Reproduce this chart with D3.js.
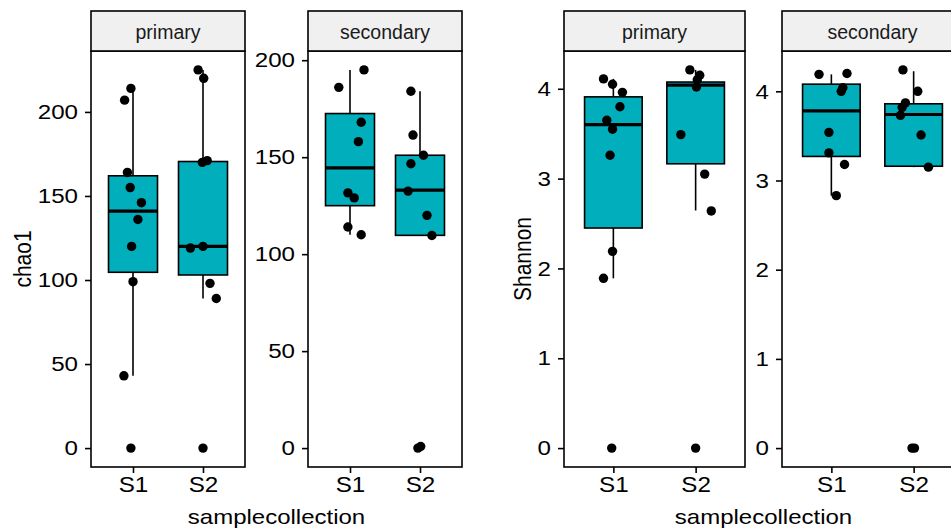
<!DOCTYPE html>
<html>
<head>
<meta charset="utf-8">
<script src="https://cdn.jsdelivr.net/npm/d3@7"></script>
<style>
  body { margin: 0; background: #fff; }
</style>
</head>
<body>
<div id="chart"></div>
<script>
"use strict";

const FONT = "'Liberation Sans', Arial, Helvetica, sans-serif";

let groups = ["S1", "S2"];
let facets = ["primary", "secondary"];

// chao1, primary
let chaoPriS1 = [214, 207, 164, 155, 146, 136, 120, 99, 43, 0];
let chaoPriS1Jit = [-0.03, -0.12, -0.08, -0.04, 0.12, 0.07, -0.02, 0, -0.13, -0.03];
let chaoPriS2 = [225, 220, 170, 171, 119, 120, 98, 89, 0];
let chaoPriS2Jit = [-0.07, 0.01, -0.01, 0.06, -0.18, 0, 0.1, 0.19, 0];
// chao1, secondary
let chaoSecS1 = [186, 195, 168, 158, 131.6, 129, 114, 110];
let chaoSecS1Jit = [-0.16, 0.2, 0.16, 0.12, -0.03, 0.06, -0.03, 0.16];
let chaoSecS2 = [184, 161.4, 151, 146.6, 132.5, 120, 109.6, 0, 0.8];
let chaoSecS2Jit = [-0.13, -0.1, 0.05, -0.13, -0.17, 0.1, 0.17, -0.03, 0.01];

// Shannon, primary
let shanPriS1 = [4.11, 4.05, 3.96, 3.80, 3.65, 3.55, 3.26, 2.19, 1.89, 0];
let shanPriS1Jit = [-0.12, -0.01, 0.11, 0.08, -0.08, -0.01, -0.04, -0.01, -0.12, -0.02];
let shanPriS2 = [4.21, 4.15, 4.10, 4.02, 3.49, 3.05, 2.64, 0];
let shanPriS2Jit = [-0.07, 0.05, 0.02, 0.01, -0.18, 0.11, 0.19, 0];
// Shannon, secondary
let shanSecS1 = [4.19, 4.20, 4.04, 4.00, 3.54, 3.31, 3.18, 2.83];
let shanSecS1Jit = [-0.15, 0.19, 0.14, 0.12, -0.03, -0.03, 0.16, 0.06];
let shanSecS2 = [4.24, 4.00, 3.87, 3.82, 3.73, 3.51, 3.15, 0, 0];
let shanSecS2Jit = [-0.13, 0.05, -0.1, -0.14, -0.16, 0.09, 0.18, -0.02, 0.01];

// box stats per group: [lower whisker, q1, median, q3, upper whisker]
let chaoPriBox = [[43, 104.6, 141, 162, 214], [89, 103, 120, 170.5, 225]];
let chaoSecBox = [[110, 125, 144.5, 172.5, 195], [109.6, 109.7, 133, 151, 184]];
let shanPriBox = [[1.89, 2.45, 3.60, 3.91, 4.11], [2.645, 3.165, 4.04, 4.075, 4.21]];
let shanSecBox = [[2.83, 3.27, 3.78, 4.08, 4.19], [3.15, 3.16, 3.74, 3.86, 4.225]];

let chaoTicks = [0, 50, 100, 150, 200];
let shanTicks = [0, 1, 2, 3, 4];

let width = 951, height = 531;
let stripTop = 11, panelTop = 51, panelBottom = 467;
let boxFill = "#00AFBB";
let lw = 1.6;

let figures = [
  {
    title: "chao1", ticks: chaoTicks, titleX: 31,
    panels: [
      { facet: facets[0], x0: 91, x1: 245, vals: [chaoPriS1, chaoPriS2], jit: [chaoPriS1Jit, chaoPriS2Jit], box: chaoPriBox },
      { facet: facets[1], x0: 308, x1: 462, vals: [chaoSecS1, chaoSecS2], jit: [chaoSecS1Jit, chaoSecS2Jit], box: chaoSecBox }
    ]
  },
  {
    title: "Shannon", ticks: shanTicks, titleX: 531,
    panels: [
      { facet: facets[0], x0: 564, x1: 745, vals: [shanPriS1, shanPriS2], jit: [shanPriS1Jit, shanPriS2Jit], box: shanPriBox },
      { facet: facets[1], x0: 782, x1: 963, vals: [shanSecS1, shanSecS2], jit: [shanSecS1Jit, shanSecS2Jit], box: shanSecBox }
    ]
  }
];

let svg = d3.select("#chart").append("svg")
  .attr("width", width)
  .attr("height", height)
  .style("display", "block");

svg.append("rect").attr("width", width).attr("height", height).attr("fill", "#fff");

figures.forEach(fig => {
  fig.panels.forEach(p => drawPanel(p, fig));

  let first = fig.panels[0], last = fig.panels[fig.panels.length - 1];

  svg.append("text")
    .attr("transform", "translate(" + ((first.x0 + last.x1) / 2) + "," + 524 + ") scale(1.2,1)")
    .attr("text-anchor", "middle")
    .attr("font-family", FONT)
    .attr("font-size", 20)
    .attr("fill", "#000")
    .text("samplecollection");

  // y title, rotated
  svg.append("text")
    .attr("transform", "translate(" + fig.titleX + "," + ((panelTop + panelBottom) / 2) + ") scale(1.1,1) rotate(-90)")
    .attr("text-anchor", "middle")
    .attr("font-family", FONT)
    .attr("font-size", 21)
    .attr("fill", "#000")
    .text(fig.title);
});

function drawPanel(p, fig) {
  let g = svg.append("g");

  let x = d3.scalePoint()
    .domain(groups)
    .range([p.x0, p.x1])
    .padding(0.6);

  let all = d3.merge(p.vals.concat(p.box));
  let ext = d3.extent(all);
  let pad = (ext[1] - ext[0]) * 0.05;

  let y = d3.scaleLinear()
    .domain([ext[0] - pad, ext[1] + pad])
    .range([panelBottom, panelTop]);

  let bw = x.step() * 0.7;

  g.append("rect")
    .attr("x", p.x0).attr("y", panelTop)
    .attr("width", p.x1 - p.x0).attr("height", panelBottom - panelTop)
    .attr("fill", "#fff");

  // boxes
  let boxG = g.selectAll(".box")
    .data(p.box)
    .enter().append("g")
    .attr("class", "box")
    .attr("transform", (d, i) => "translate(" + x(groups[i]) + ",0)");

  boxG.append("line")
    .attr("x1", 0).attr("x2", 0)
    .attr("y1", d => y(d[0])).attr("y2", d => y(d[1]))
    .attr("stroke", "#000").attr("stroke-width", lw);

  boxG.append("line")
    .attr("x1", 0).attr("x2", 0)
    .attr("y1", d => y(d[3])).attr("y2", d => y(d[4]))
    .attr("stroke", "#000").attr("stroke-width", lw);

  boxG.append("rect")
    .attr("x", -bw / 2)
    .attr("width", bw)
    .attr("y", d => y(d[3]))
    .attr("height", d => y(d[1]) - y(d[3]))
    .attr("fill", boxFill)
    .attr("stroke", "#000")
    .attr("stroke-width", lw);

  boxG.append("line")
    .attr("x1", -bw / 2).attr("x2", bw / 2)
    .attr("y1", d => y(d[2])).attr("y2", d => y(d[2]))
    .attr("stroke", "#000").attr("stroke-width", lw * 2);

  // jittered points
  p.vals.forEach((vals, i) => {
    g.selectAll(".pt" + i)
      .data(vals)
      .enter().append("circle")
      .attr("class", "pt" + i)
      .attr("cx", (v, j) => x(groups[i]) + p.jit[i][j] * x.step())
      .attr("cy", v => y(v))
      .attr("r", 4.7)
      .attr("fill", "#000");
  });

  // panel border
  g.append("rect")
    .attr("x", p.x0).attr("y", panelTop)
    .attr("width", p.x1 - p.x0).attr("height", panelBottom - panelTop)
    .attr("fill", "none")
    .attr("stroke", "#000")
    .attr("stroke-width", lw);

  // strip
  g.append("rect")
    .attr("x", p.x0).attr("y", stripTop)
    .attr("width", p.x1 - p.x0).attr("height", panelTop - stripTop)
    .attr("fill", "#f0f0f0")
    .attr("stroke", "#000")
    .attr("stroke-width", lw);

  g.append("text")
    .attr("transform", "translate(" + ((p.x0 + p.x1) / 2) + "," + 38.5 + ")")
    .attr("text-anchor", "middle")
    .attr("font-family", FONT)
    .attr("font-size", 19.5)
    .attr("fill", "#1a1a1a")
    .text(p.facet);

  // axes
  let yAxis = d3.axisLeft(y)
    .tickValues(fig.ticks)
    .tickFormat(d3.format("~g"))
    .tickSize(6)
    .tickPadding(5.3)
    .tickSizeOuter(0);

  let ya = g.append("g")
    .attr("transform", "translate(" + p.x0 + ",0)")
    .call(yAxis)
    .attr("font-family", FONT)
    .attr("font-size", 21);

  ya.select(".domain").remove();
  ya.selectAll("line").attr("stroke", "#000").attr("stroke-width", lw);
  ya.selectAll("text").attr("fill", "#000").attr("transform", "scale(1.15,1)");

  let xAxis = d3.axisBottom(x)
    .tickSize(6)
    .tickPadding(3.5)
    .tickSizeOuter(0);

  let xa = g.append("g")
    .attr("transform", "translate(0," + panelBottom + ")")
    .call(xAxis)
    .attr("font-family", FONT)
    .attr("font-size", 22);

  xa.select(".domain").remove();
  xa.selectAll("line").attr("stroke", "#000").attr("stroke-width", lw);
  xa.selectAll("text").attr("fill", "#000").attr("transform", "scale(1.1,1)");
}
</script>
</body>
</html>
